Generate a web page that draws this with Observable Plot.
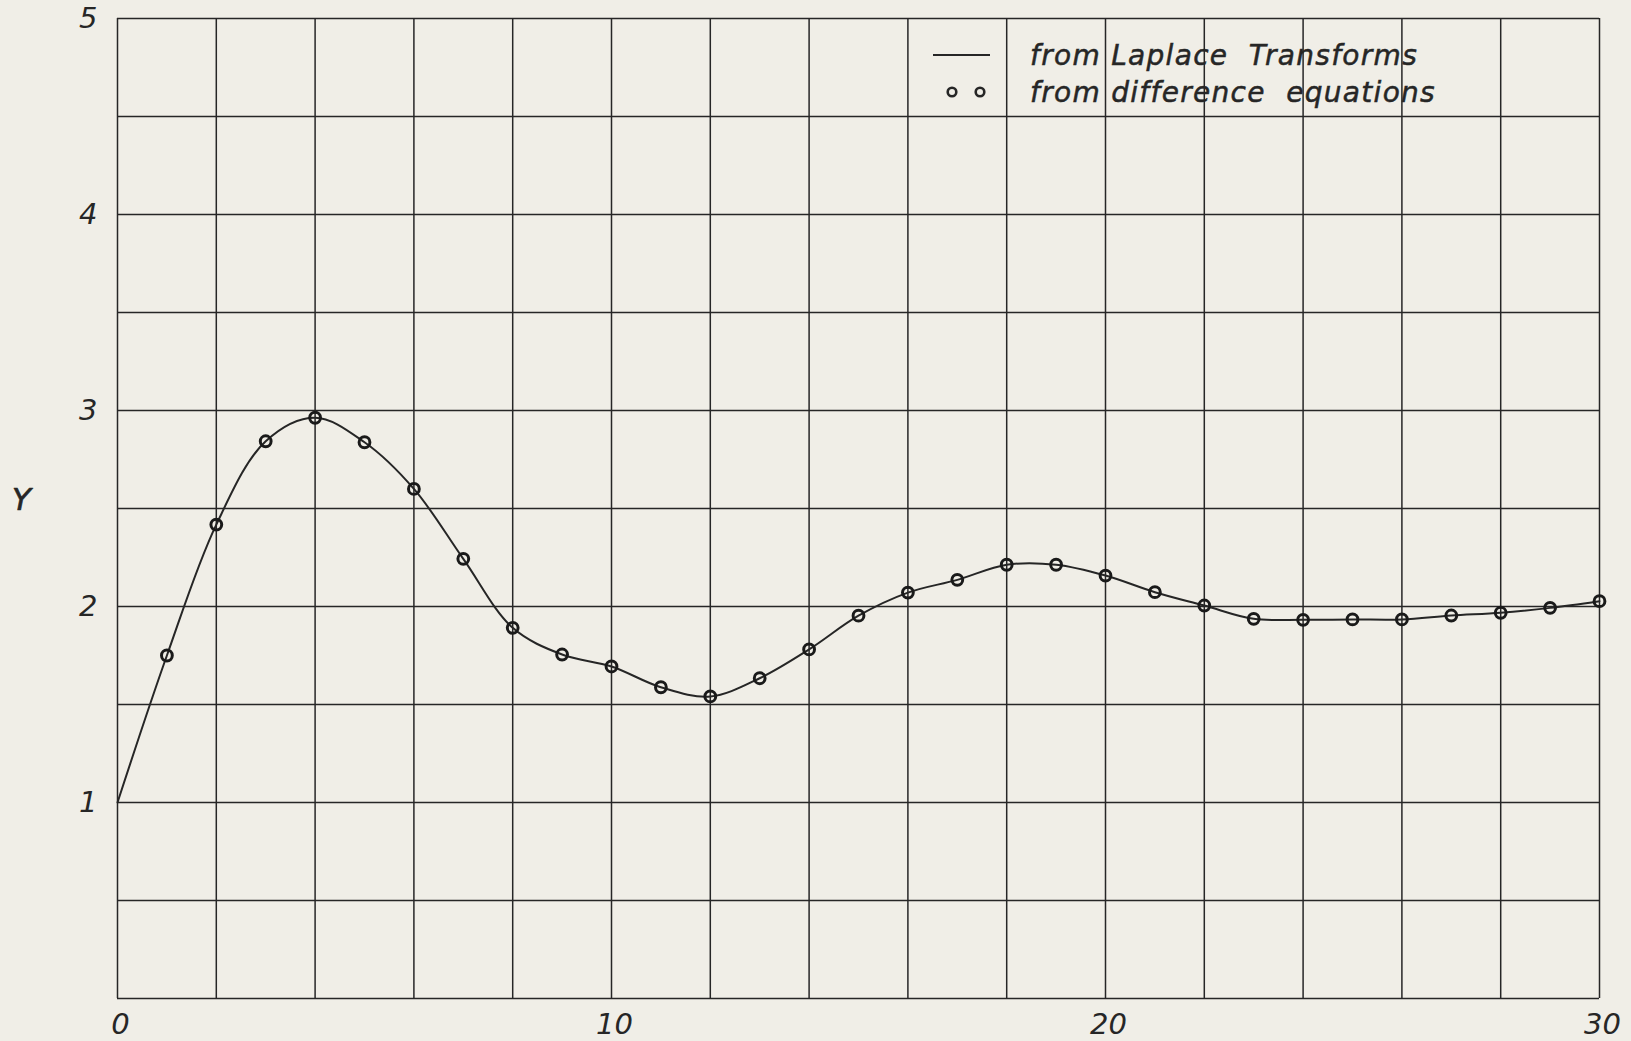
<!DOCTYPE html>
<html>
<head>
<meta charset="utf-8">
<script src="https://cdn.jsdelivr.net/npm/d3@7"></script>
<script src="https://cdn.jsdelivr.net/npm/@observablehq/plot@0.6"></script>
<style>
  html, body { margin: 0; padding: 0; background: #f0eee7; }
  #wrap { position: relative; width: 1631px; height: 1041px; }
  #legend { position: absolute; left: 0; top: 0; }
  svg text { white-space: pre; }
</style>
</head>
<body>
<div id="wrap"></div>
<script>
// --- data ---
const diffT = [1, 2, 3, 4, 5, 6, 7, 8, 9, 10, 11, 12, 13, 14, 15, 16, 17, 18, 19, 20, 21, 22, 23, 24, 25, 26, 27, 28, 29, 30];
const diffY = [1.75, 2.418, 2.843, 2.963, 2.838, 2.600, 2.243, 1.891, 1.755, 1.694, 1.588, 1.541, 1.634, 1.781, 1.953, 2.071, 2.136, 2.213, 2.213, 2.158, 2.073, 2.005, 1.937, 1.932, 1.934, 1.934, 1.954, 1.968, 1.993, 2.027];
const laplaceT = [0, 1, 2, 3, 4, 5, 6, 7, 8, 9, 10, 11, 12, 13, 14, 15, 16, 17, 18, 19, 20, 21, 22, 23, 24, 25, 26, 27, 28, 29, 30];
const laplaceY = [1.0, 1.75, 2.418, 2.843, 2.963, 2.838, 2.600, 2.243, 1.891, 1.755, 1.694, 1.588, 1.541, 1.634, 1.781, 1.953, 2.071, 2.136, 2.213, 2.213, 2.158, 2.073, 2.005, 1.937, 1.932, 1.934, 1.934, 1.954, 1.968, 1.993, 2.027];
const xGrid = [0, 2, 4, 6, 8, 10, 12, 14, 16, 18, 20, 22, 24, 26, 28, 30];
const yGrid = [0, 0.5, 1, 1.5, 2, 2.5, 3, 3.5, 4, 4.5, 5];
const xTickLabels = [0, 10, 20, 30];
const yTickLabels = [1, 2, 3, 4, 5];
const yAxisTitle = "Y";
const legendLabels = ["from Laplace  Transforms", "from difference  equations"];

const diffData = diffT.map((t, i) => ({t, y: diffY[i]}));
const lapData = laplaceT.map((t, i) => ({t, y: laplaceY[i]}));

const ink = "#262626";
const font = "DejaVu Sans";
const textStyle = { fontFamily: font, fontStyle: "italic", fill: ink, stroke: ink, strokeWidth: 0.6 };

const chart = Plot.plot({
  width: 1631,
  height: 1041,
  marginLeft: 117,
  marginRight: 32,
  marginTop: 18,
  marginBottom: 43,
  style: { background: "transparent", fontFamily: font, fontStyle: "italic", fontSize: "29px", color: ink },
  x: { domain: [0, 30] },
  y: { domain: [0, 5] },
  marks: [
    Plot.ruleX(xGrid, { stroke: ink, strokeWidth: 1.5 }),
    Plot.ruleY(yGrid, { stroke: ink, strokeWidth: 1.5 }),
    Plot.axisX({ ticks: xTickLabels, tickFormat: d => String(d), tickSize: 0, tickPadding: 15, dx: 3, fontSize: 29, ...textStyle, label: null }),
    Plot.axisY({ ticks: yTickLabels, tickFormat: d => String(d), tickSize: 0, tickPadding: 20, fontSize: 29, ...textStyle, label: null }),
    Plot.text([yAxisTitle], { frameAnchor: "left", text: d => d, dx: -96, dy: -8, textAnchor: "middle", fontSize: 31, ...textStyle }),
    Plot.line(lapData, { x: "t", y: "y", curve: "catmull-rom", stroke: ink, strokeWidth: 2 }),
    Plot.dot(diffData, { x: "t", y: "y", r: 5.4, stroke: "#1a1a1a", strokeWidth: 3, fill: "none" })
  ]
});

const wrap = document.getElementById("wrap");
wrap.appendChild(chart);

// legend overlay (inside plot area, top right)
const leg = d3.select(wrap).append("svg")
  .attr("id", "legend")
  .attr("width", 1631).attr("height", 1041)
  .style("pointer-events", "none");
leg.append("line")
  .attr("x1", 933).attr("x2", 990).attr("y1", 55).attr("y2", 55)
  .attr("stroke", ink).attr("stroke-width", 2.2);
[952, 980].forEach(cx => leg.append("circle")
  .attr("cx", cx).attr("cy", 92).attr("r", 4.3)
  .attr("fill", "none").attr("stroke", ink).attr("stroke-width", 2.6));
legendLabels.forEach((s, i) => leg.append("text")
  .attr("x", 1030).attr("y", 65 + i * 37)
  .attr("font-family", font).attr("font-style", "italic")
  .attr("font-size", 28).attr("letter-spacing", 1.3)
  .attr("fill", ink).attr("stroke", ink).attr("stroke-width", 0.5)
  .text(s));
</script>
</body>
</html>
